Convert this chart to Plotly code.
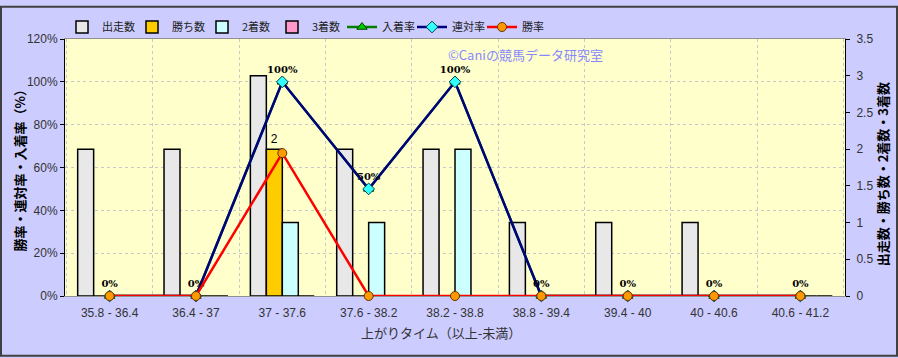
import plotly.graph_objects as go

categories = ["35.8 - 36.4", "36.4 - 37", "37 - 37.6", "37.6 - 38.2", "38.2 - 38.8",
              "38.8 - 39.4", "39.4 - 40", "40 - 40.6", "40.6 - 41.2"]
starts = [2, 2, 3, 2, 2, 1, 1, 1, 0]
wins = [0, 0, 2, 0, 0, 0, 0, 0, 0]
seconds = [0, 0, 1, 1, 2, 0, 0, 0, 0]
thirds = [0, 0, 0, 0, 0, 0, 0, 0, 0]
place_rate = [0, 0, 100, 50, 100, 0, 0, 0, 0]
rentai_rate = [0, 0, 100, 50, 100, 0, 0, 0, 0]
win_rate = [0, 0, 66.7, 0, 0, 0, 0, 0, 0]

FONT = "Liberation Sans, Noto Sans CJK JP, sans-serif"
JP = "Noto Sans CJK JP, sans-serif"

fig = go.Figure()
bar_line = dict(color="#000000", width=1.5)
fig.add_trace(go.Bar(name="出走数", x=categories, y=starts, yaxis="y",
                     marker=dict(color="#E8E8E8", line=bar_line)))
fig.add_trace(go.Bar(name="勝ち数", x=categories, y=wins, yaxis="y",
                     marker=dict(color="#FFCC00", line=bar_line),
                     text=[str(v) if v else "" for v in wins], textposition="outside",
                     textfont=dict(size=12, color="#000000", family=FONT), cliponaxis=False))
fig.add_trace(go.Bar(name="2着数", x=categories, y=seconds, yaxis="y",
                     marker=dict(color="#CCFFFF", line=bar_line)))
fig.add_trace(go.Bar(name="3着数", x=categories, y=thirds, yaxis="y",
                     marker=dict(color="#FF99CC", line=bar_line)))

fig.add_trace(go.Scatter(name="入着率", x=categories, y=place_rate, yaxis="y2",
                         mode="lines+markers", line=dict(color="#008000", width=2.5),
                         marker=dict(symbol="triangle-up", size=9, color="#00CC00",
                                     line=dict(color="#004000", width=1)), cliponaxis=False))
fig.add_trace(go.Scatter(name="連対率", x=categories, y=rentai_rate, yaxis="y2",
                         mode="lines+markers+text", line=dict(color="#000080", width=2.5),
                         marker=dict(symbol="diamond", size=9, color="#33FFFF",
                                     line=dict(color="#004040", width=1)),
                         text=[f"{v:g}%" for v in rentai_rate], textposition="top center",
                         textfont=dict(size=10, color="#000000", family="DejaVu Serif", weight="bold"),
                         cliponaxis=False))
fig.add_trace(go.Scatter(name="勝率", x=categories, y=win_rate, yaxis="y2",
                         mode="lines+markers", line=dict(color="#FF0000", width=2.5),
                         marker=dict(symbol="circle", size=9, color="#FF9900",
                                     line=dict(color="#663300", width=1)), cliponaxis=False))

W, H = 898, 358
ml, mr, mt, mb = 65, 53, 34, 62
pw, ph = W - ml - mr, H - mt - mb


def px(xp):
    return (xp - ml) / pw


def py(yp):
    return (H - mb - yp) / ph


fig.update_layout(
    width=W, height=H,
    margin=dict(l=ml, r=mr, t=mt, b=mb, pad=0),
    paper_bgcolor="#CCCCFF", plot_bgcolor="#FFFFCC",
    barmode="group", bargap=0.26, bargroupgap=0,
    font=dict(family=FONT, size=12, color="#333333"),
    showlegend=True,
    legend=dict(orientation="h", x=px(62), y=py(7), xanchor="left", yanchor="top",
                bgcolor="rgba(0,0,0,0)", font=dict(size=11, family=JP, color="#222222"),
                itemwidth=30, tracegroupgap=0, entrywidth=25, entrywidthmode="pixels"),
    xaxis=dict(type="category", showgrid=True, gridcolor="#C8C8C8", griddash="dot",
               tickson="boundaries", ticks="", showline=True, linecolor="#909090",
               mirror=True, tickfont=dict(size=12, color="#333333"), ticklabelstandoff=6,
               layer="below traces"),
    yaxis=dict(side="right", range=[0, 3.5], dtick=0.5, showgrid=False, zeroline=False,
               ticks="outside", ticklen=4, tickcolor="#000000", showline=True,
               linecolor="#000000", tickfont=dict(size=12, color="#333333"),
               ticklabelstandoff=4, layer="below traces"),
    yaxis2=dict(overlaying="y", side="left", range=[0, 120], dtick=20, ticksuffix="%",
                showgrid=True, gridcolor="#C8C8C8", griddash="dot", zeroline=False,
                ticks="outside", ticklen=4, tickcolor="#000000", showline=True,
                linecolor="#000000", tickfont=dict(size=12, color="#333333"),
                layer="below traces"),
    annotations=[
        dict(text="勝率・連対率・入着率（%）", xref="paper", yref="paper",
             x=px(19), y=py(165), xanchor="center", yanchor="middle",
             textangle=-90, showarrow=False,
             font=dict(size=13, color="#000000", family=JP, weight="bold")),
        dict(text="出走数・勝ち数・2着数・3着数", xref="paper", yref="paper",
             x=px(882), y=py(172), xanchor="center", yanchor="middle",
             textangle=-90, showarrow=False,
             font=dict(size=13, color="#000000", family=JP, weight="bold")),
        dict(text="上がりタイム（以上-未満）", xref="paper", yref="paper",
             x=px(441), y=py(333), xanchor="center", yanchor="middle", showarrow=False,
             font=dict(size=13, color="#333333", family=JP)),
        dict(text="©Caniの競馬データ研究室", xref="paper", yref="paper",
             x=px(525), y=py(50), xanchor="center", yanchor="middle", showarrow=False,
             font=dict(size=13, color="#8888FF", family=JP)),
    ],
    shapes=[
        dict(type="rect", xref="paper", yref="paper",
             x0=px(1), x1=px(W - 1), y0=py(H - 1), y1=py(1),
             line=dict(color="#404040", width=2), fillcolor="rgba(0,0,0,0)", layer="above"),
    ],
)

fig.write_html("out.html")
